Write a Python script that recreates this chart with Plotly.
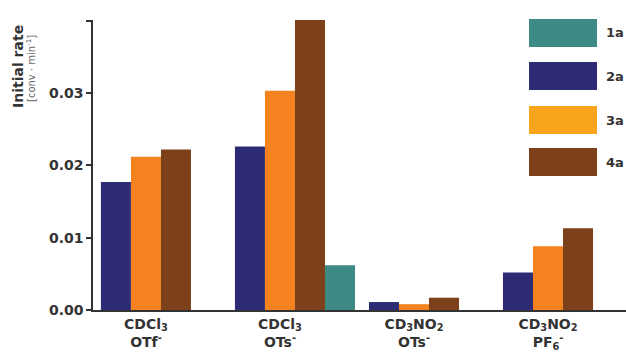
import plotly.graph_objects as go

# ---- data ----
categories = ["<b>CDCl<sub>3</sub></b><br><b>OTf<sup>-</sup></b>",
              "<b>CDCl<sub>3</sub></b><br><b>OTs<sup>-</sup></b>",
              "<b>CD<sub>3</sub>NO<sub>2</sub></b><br><b>OTs<sup>-</sup></b>",
              "<b>CD<sub>3</sub>NO<sub>2</sub></b><br><b>PF<sub>6</sub><sup>-</sup></b>"]
series_names = ["2a", "3a", "4a", "1a"]
rate_2a = [0.0177, 0.0226, 0.0011, 0.0052]
rate_3a = [0.0212, 0.0303, 0.0008, 0.0088]
rate_4a = [0.0222, 0.0403, 0.0017, 0.0113]
rate_1a = [None, 0.0062, None, None]
legend_order = ["1a", "2a", "3a", "4a"]
y_ticks = [0.0, 0.01, 0.02, 0.03, 0.04]
y_ticklabels = ["<b>0.00</b>", "<b>0.01</b>", "<b>0.02</b>", "<b>0.03</b>", ""]

colors = {"1a": "#3e8b86", "2a": "#2c2b74", "3a": "#f3821f", "4a": "#7c411b"}
legend_colors = {"1a": "#3e8b86", "2a": "#2c2b74", "3a": "#f9a51c", "4a": "#7c411b"}
values = {"2a": rate_2a, "3a": rate_3a, "4a": rate_4a, "1a": rate_1a}

FONT = "DejaVu Sans, Arial, sans-serif"
W, H = 626, 358
L, R, T, B = 93, 0, 20, 48
bargap = 0.104
xs = list(range(len(categories)))
slot = (1 - bargap) / len(series_names)

fig = go.Figure()
for name in series_names:
    fig.add_trace(go.Bar(x=xs, y=values[name], name=name,
                         marker=dict(color=colors[name], line=dict(width=0)),
                         showlegend=False))

fig.update_layout(
    width=W, height=H,
    margin=dict(l=L, r=R, t=T, b=B),
    barmode="group", bargap=bargap, bargroupgap=0,
    plot_bgcolor="white", paper_bgcolor="white",
    font=dict(family=FONT, color="#333333"),
)
fig.update_xaxes(
    range=[-0.507, 3.47],
    tickvals=[x - slot / 2 for x in xs], ticktext=categories,
    ticks="", showline=True, linecolor="#333333", linewidth=1.5,
    tickfont=dict(size=14, color="#333333", family=FONT), showgrid=False, zeroline=False,
)
fig.update_yaxes(
    range=[0, 0.0401],
    tickvals=y_ticks, ticktext=y_ticklabels,
    ticks="outside", ticklen=5, tickwidth=1.5, tickcolor="#333333",
    showline=True, linecolor="#333333", linewidth=1.5,
    tickfont=dict(size=14, color="#333333", family=FONT),
    showgrid=False, zeroline=False,
)

def px_x(p):
    return (p - L) / (W - L - R)

def px_y(p):
    return (H - B - p) / (H - T - B)

# axis title
fig.add_annotation(text="<b>Initial rate</b>", xref="paper", yref="paper",
                   x=px_x(18), y=px_y(67), xanchor="center", yanchor="middle",
                   textangle=-90, showarrow=False,
                   font=dict(size=14, color="#333333", family=FONT))
fig.add_annotation(text="[conv · min<sup>-1</sup>]", xref="paper", yref="paper",
                   x=px_x(31), y=px_y(69), xanchor="center", yanchor="middle",
                   textangle=-90, showarrow=False,
                   font=dict(size=10, color="#666666", family=FONT))

# legend drawn as boxes
box_tops = [19, 62, 106, 148]
for name, top in zip(legend_order, box_tops):
    fig.add_shape(type="rect", xref="paper", yref="paper",
                  x0=px_x(529), x1=px_x(597), y0=px_y(top + 28), y1=px_y(top),
                  fillcolor=legend_colors[name], line=dict(width=0))
    fig.add_annotation(text="<b>%s</b>" % name, xref="paper", yref="paper",
                       x=px_x(604), y=px_y(top + 14), xanchor="left", yanchor="middle",
                       showarrow=False, font=dict(size=13, color="#333333", family=FONT))

fig.write_html("out.html", config={"displayModeBar": False},
               post_script="document.body.style.margin='0px';document.body.style.padding='0px';")
